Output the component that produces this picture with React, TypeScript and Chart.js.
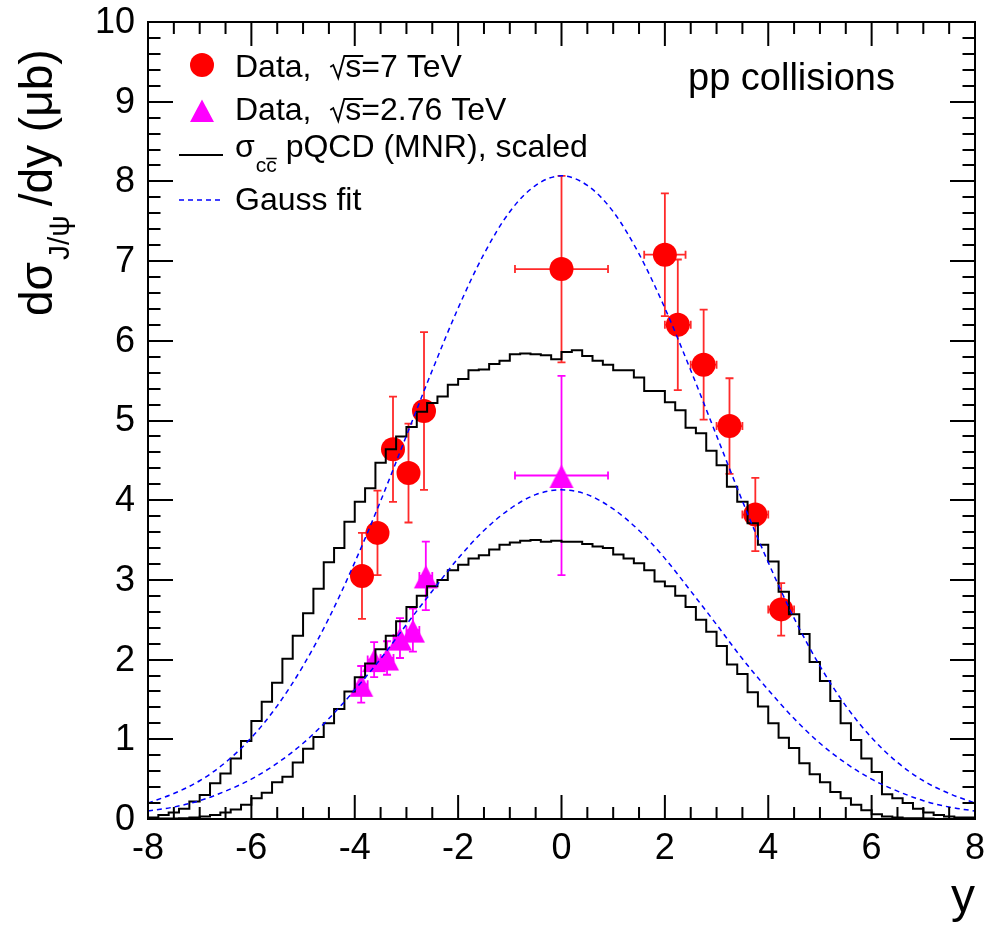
import { useEffect, useRef } from 'react';
import { Chart, registerables } from 'chart.js';

Chart.register(...registerables);

// ---------------- data ----------------
const X_TICK_LABELS = [-8, -6, -4, -2, 0, 2, 4, 6, 8];
const Y_TICK_LABELS = [0, 1, 2, 3, 4, 5, 6, 7, 8, 9, 10];

// MNR histograms: bins of width 0.2 from y = -8 to 8
const BIN_START = -8;
const BIN_WIDTH = 0.2;
const MNR_7TEV = [
  0.01, 0.02, 0.05, 0.08, 0.13, 0.22, 0.30, 0.45, 0.57, 0.76,
  0.98, 1.23, 1.47, 1.71, 2.01, 2.30, 2.58, 2.89, 3.22, 3.40,
  3.73, 3.98, 4.15, 4.47, 4.64, 4.80, 4.92, 5.11, 5.22, 5.30,
  5.45, 5.52, 5.63, 5.64, 5.71, 5.75, 5.83, 5.84, 5.83, 5.82,
  5.77, 5.86, 5.88, 5.81, 5.75, 5.70, 5.63, 5.63, 5.54, 5.37,
  5.37, 5.23, 5.13, 4.91, 4.84, 4.62, 4.44, 4.17, 3.98, 3.71,
  3.44, 3.23, 2.85, 2.57, 2.32, 1.97, 1.73, 1.48, 1.20, 0.99,
  0.76, 0.59, 0.31, 0.26, 0.20, 0.13, 0.08, 0.05, 0.03, 0.02,
];
const MNR_276TEV = [
  0.0, 0.0, 0.005, 0.005, 0.01, 0.02, 0.03, 0.05, 0.08, 0.12,
  0.18, 0.26, 0.33, 0.46, 0.53, 0.71, 0.88, 1.03, 1.20, 1.38,
  1.60, 1.78, 1.95, 2.13, 2.30, 2.48, 2.66, 2.80, 2.92, 3.00,
  3.12, 3.19, 3.27, 3.31, 3.38, 3.44, 3.47, 3.49, 3.50, 3.48,
  3.49, 3.48, 3.48, 3.45, 3.42, 3.40, 3.32, 3.27, 3.21, 3.12,
  2.98, 2.92, 2.80, 2.66, 2.50, 2.35, 2.17, 1.94, 1.82, 1.59,
  1.41, 1.20, 1.02, 0.89, 0.70, 0.56, 0.46, 0.34, 0.26, 0.18,
  0.11, 0.06, 0.03, 0.02, 0.01, 0.01, 0.005, 0.0, 0.0, 0.0,
];

// Gauss fit curves, read every 0.5 in y
const GAUSS_X = [
  -8, -7.5, -7, -6.5, -6, -5.5, -5, -4.5, -4, -3.5, -3, -2.5, -2, -1.5, -1, -0.5,
  0, 0.5, 1, 1.5, 2, 2.5, 3, 3.5, 4, 4.5, 5, 5.5, 6, 6.5, 7, 7.5, 8,
];
const GAUSS_7TEV = [
  0.20, 0.32, 0.48, 0.71, 1.02, 1.42, 1.92, 2.52, 3.22, 3.99, 4.81, 5.63, 6.41, 7.09, 7.62, 7.95,
  8.07, 7.95, 7.62, 7.09, 6.41, 5.63, 4.81, 3.99, 3.22, 2.52, 1.92, 1.42, 1.02, 0.71, 0.48, 0.32, 0.20,
];
const GAUSS_276TEV = [
  0.10, 0.15, 0.23, 0.35, 0.50, 0.70, 0.95, 1.26, 1.62, 2.01, 2.44, 2.86, 3.27, 3.62, 3.89, 4.07,
  4.13, 4.07, 3.89, 3.62, 3.27, 2.86, 2.44, 2.01, 1.62, 1.26, 0.95, 0.70, 0.50, 0.35, 0.23, 0.15, 0.10,
];

// Data, sqrt(s) = 7 TeV
const D7_Y = [-3.86, -3.56, -3.26, -2.96, -2.66, 0, 2.0, 2.25, 2.75, 3.25, 3.75, 4.25];
const D7_VAL = [3.05, 3.59, 4.64, 4.34, 5.12, 6.90, 7.08, 6.20, 5.70, 4.93, 3.82, 2.63];
const D7_ERR = [0.54, 0.53, 0.66, 0.62, 0.99, 1.17, 0.77, 0.82, 0.69, 0.60, 0.46, 0.33];
const D7_XERR = [0.15, 0.15, 0.15, 0.15, 0.15, 0.9, 0.4, 0.25, 0.25, 0.25, 0.25, 0.25];

// Data, sqrt(s) = 2.76 TeV
const D276_Y = [-3.875, -3.625, -3.375, -3.125, -2.875, -2.625, 0];
const D276_VAL = [1.69, 2.00, 2.02, 2.27, 2.37, 3.05, 4.31];
const D276_ERR = [0.23, 0.22, 0.21, 0.25, 0.27, 0.43, 1.25];
const D276_XERR = [0.125, 0.125, 0.125, 0.125, 0.125, 0.125, 0.9];

// ---------------- styling ----------------
const FONT = '"Liberation Sans", Arial, Helvetica, sans-serif';
const RED = '#ff0000';
const RED_ERR = '#ff2a2a';
const MAGENTA = '#ff00ff';
const BLUE = '#0000ff';

function histPoints(vals: number[]) {
  const pts = vals.map((v, i) => ({ x: BIN_START + i * BIN_WIDTH, y: v }));
  pts.push({ x: BIN_START + vals.length * BIN_WIDTH, y: vals[vals.length - 1] });
  return pts;
}

function zip(xs: number[], ys: number[]) {
  return xs.map((x, i) => ({ x, y: ys[i] }));
}

function triangleMarker(color: string) {
  const c = document.createElement('canvas');
  c.width = 26;
  c.height = 27;
  const g = c.getContext('2d')!;
  g.fillStyle = color;
  g.beginPath();
  g.moveTo(13, 2.8);
  g.lineTo(25, 26.1);
  g.lineTo(1, 26.1);
  g.closePath();
  g.fill();
  return c;
}

const errorBarPlugin = {
  id: 'errorBars',
  beforeDatasetsDraw(chart: any) {
    const { ctx, scales } = chart;
    const xs = scales.x;
    const ys = scales.y;
    const draw = (X: number[], V: number[], E: number[], XE: number[], color: string) => {
      ctx.save();
      ctx.strokeStyle = color;
      ctx.lineWidth = 1.8;
      const cap = 4;
      for (let i = 0; i < X.length; i++) {
        const px = xs.getPixelForValue(X[i]);
        const py = ys.getPixelForValue(V[i]);
        const t = ys.getPixelForValue(V[i] + E[i]);
        const b = ys.getPixelForValue(V[i] - E[i]);
        const l = xs.getPixelForValue(X[i] - XE[i]);
        const r = xs.getPixelForValue(X[i] + XE[i]);
        ctx.beginPath();
        ctx.moveTo(px, t); ctx.lineTo(px, b);
        ctx.moveTo(px - cap, t); ctx.lineTo(px + cap, t);
        ctx.moveTo(px - cap, b); ctx.lineTo(px + cap, b);
        ctx.moveTo(l, py); ctx.lineTo(r, py);
        ctx.moveTo(l, py - cap); ctx.lineTo(l, py + cap);
        ctx.moveTo(r, py - cap); ctx.lineTo(r, py + cap);
        ctx.stroke();
      }
      ctx.restore();
    };
    draw(D7_Y, D7_VAL, D7_ERR, D7_XERR, RED_ERR);
    draw(D276_Y, D276_VAL, D276_ERR, D276_XERR, MAGENTA);
  },
};

const framePlugin = {
  id: 'rootFrame',
  afterDraw(chart: any) {
    const { ctx, chartArea, scales } = chart;
    const { left, right, top, bottom } = chartArea;
    const xs = scales.x;
    const ys = scales.y;
    ctx.save();
    ctx.strokeStyle = '#000';
    ctx.lineWidth = 2;
    ctx.beginPath();
    // y ticks (every 0.2, major every 1)
    for (let i = 0; i <= 50; i++) {
      const v = i * 0.2;
      const py = Math.round(ys.getPixelForValue(v));
      const len = i % 5 === 0 ? 25 : 12.5;
      ctx.moveTo(left, py); ctx.lineTo(left + len, py);
      ctx.moveTo(right, py); ctx.lineTo(right - len, py);
    }
    // x ticks (every 0.5, major every 2)
    for (let i = 0; i <= 32; i++) {
      const v = -8 + i * 0.5;
      const px = xs.getPixelForValue(v);
      const len = i % 4 === 0 ? 24 : 12;
      ctx.moveTo(px, bottom); ctx.lineTo(px, bottom - len);
      ctx.moveTo(px, top); ctx.lineTo(px, top + len);
    }
    ctx.stroke();
    ctx.strokeRect(left, top, right - left, bottom - top);

    // tick labels
    ctx.fillStyle = '#000';
    ctx.font = `36px ${FONT}`;
    ctx.textAlign = 'right';
    ctx.textBaseline = 'middle';
    for (const v of Y_TICK_LABELS) {
      ctx.fillText(String(v), left - 13, ys.getPixelForValue(v) + 1);
    }
    ctx.textAlign = 'center';
    ctx.textBaseline = 'alphabetic';
    for (const v of X_TICK_LABELS) {
      ctx.fillText(String(v), xs.getPixelForValue(v), bottom + 40);
    }

    // x title
    ctx.font = `48px ${FONT}`;
    ctx.textAlign = 'right';
    ctx.fillText('y', right, 912);

    // y title (rotated) d sigma_{J/psi} /dy (mu b)
    ctx.save();
    ctx.translate(52, 316);
    ctx.rotate(-Math.PI / 2);
    ctx.textAlign = 'left';
    ctx.font = `46px ${FONT}`;
    ctx.fillText('dσ', 0, 0);
    let tx = ctx.measureText('dσ').width + 2;
    ctx.font = `30px ${FONT}`;
    ctx.fillText('J/ψ', tx, 17);
    tx += ctx.measureText('J/ψ').width + 9;
    ctx.font = `46px ${FONT}`;
    ctx.fillText('/dy (μb)', tx, 0);
    ctx.restore();

    // pp collisions
    ctx.font = `38px ${FONT}`;
    ctx.textAlign = 'left';
    ctx.fillText('pp collisions', 688, 90);

    // legend
    const lx = 235;
    const sym = 202;
    ctx.fillStyle = RED;
    ctx.beginPath();
    ctx.arc(sym, 65, 12, 0, Math.PI * 2);
    ctx.fill();
    ctx.fillStyle = MAGENTA;
    ctx.beginPath();
    ctx.moveTo(sym, 99.5);
    ctx.lineTo(sym + 12, 122);
    ctx.lineTo(sym - 12, 122);
    ctx.closePath();
    ctx.fill();
    ctx.strokeStyle = '#000';
    ctx.lineWidth = 2;
    ctx.beginPath();
    ctx.moveTo(179, 155); ctx.lineTo(223, 155);
    ctx.stroke();
    ctx.strokeStyle = BLUE;
    ctx.lineWidth = 1.5;
    ctx.setLineDash([5, 4]);
    ctx.beginPath();
    ctx.moveTo(179, 200); ctx.lineTo(223, 200);
    ctx.stroke();
    ctx.setLineDash([]);

    ctx.fillStyle = '#000';
    ctx.strokeStyle = '#000';
    const sqrtRow = (base: number, rest: string) => {
      ctx.font = `32px ${FONT}`;
      ctx.fillText('Data,  ', lx, base);
      let x = lx + ctx.measureText('Data,  ').width + 1;
      const sw = ctx.measureText('s').width;
      ctx.lineWidth = 1.8;
      ctx.beginPath();
      ctx.moveTo(x, base - 10);
      ctx.lineTo(x + 3, base - 12);
      ctx.lineTo(x + 8, base + 1);
      ctx.lineTo(x + 14, base - 21);
      ctx.lineTo(x + 16 + sw + 1, base - 21);
      ctx.stroke();
      x += 15;
      ctx.fillText('s', x, base);
      x += sw;
      ctx.fillText(rest, x, base);
    };
    sqrtRow(77, '=7 TeV');
    sqrtRow(120, '=2.76 TeV');

    ctx.font = `32px ${FONT}`;
    ctx.fillText('σ', lx, 157);
    let x3 = lx + ctx.measureText('σ').width + 1;
    ctx.font = `21px ${FONT}`;
    const cw = ctx.measureText('c').width;
    ctx.fillText('cc', x3, 172);
    ctx.lineWidth = 1.5;
    ctx.beginPath();
    ctx.moveTo(x3 + cw, 158.5);
    ctx.lineTo(x3 + 2 * cw, 158.5);
    ctx.stroke();
    x3 += 2 * cw;
    ctx.font = `32px ${FONT}`;
    ctx.fillText(' pQCD (MNR), scaled', x3, 157);

    ctx.fillText('Gauss fit', lx, 210);

    ctx.restore();
  },
};

export default function App() {
  const ref = useRef<HTMLCanvasElement>(null);
  useEffect(() => {
    document.body.style.margin = '0';
    const canvas = ref.current!;
    const tri = triangleMarker(MAGENTA);
    const chart = new Chart(canvas, {
      type: 'scatter',
      data: {
        datasets: [
          {
            type: 'line',
            label: 'Gauss fit 7 TeV',
            data: zip(GAUSS_X, GAUSS_7TEV),
            borderColor: BLUE,
            borderWidth: 1.5,
            borderDash: [5, 4],
            pointRadius: 0,
            fill: false,
            cubicInterpolationMode: 'monotone',
          },
          {
            type: 'line',
            label: 'Gauss fit 2.76 TeV',
            data: zip(GAUSS_X, GAUSS_276TEV),
            borderColor: BLUE,
            borderWidth: 1.5,
            borderDash: [5, 4],
            pointRadius: 0,
            fill: false,
            cubicInterpolationMode: 'monotone',
          },
          {
            type: 'line',
            label: 'MNR 7 TeV',
            data: histPoints(MNR_7TEV),
            borderColor: '#000',
            borderWidth: 2,
            pointRadius: 0,
            fill: false,
            stepped: 'after',
          },
          {
            type: 'line',
            label: 'MNR 2.76 TeV',
            data: histPoints(MNR_276TEV),
            borderColor: '#000',
            borderWidth: 2,
            pointRadius: 0,
            fill: false,
            stepped: 'after',
          },
          {
            label: 'Data 7 TeV',
            data: zip(D7_Y, D7_VAL),
            pointStyle: 'circle',
            pointRadius: 12,
            backgroundColor: RED,
            borderWidth: 0,
          },
          {
            label: 'Data 2.76 TeV',
            data: zip(D276_Y, D276_VAL),
            pointStyle: tri as any,
            pointRadius: 13,
            backgroundColor: MAGENTA,
            borderWidth: 0,
          },
        ],
      },
      options: {
        responsive: false,
        animation: false,
        events: [],
        layout: { padding: { left: 148, right: 11, top: 22, bottom: 108 } },
        plugins: { legend: { display: false }, tooltip: { enabled: false } },
        scales: {
          x: { type: 'linear', min: -8, max: 8, display: false },
          y: { type: 'linear', min: 0, max: 10, display: false },
        },
      },
      plugins: [errorBarPlugin, framePlugin],
    } as any);
    return () => chart.destroy();
  }, []);
  return (
    <div style={{ width: 988, height: 927 }}>
      <canvas ref={ref} width={988} height={927} style={{ display: 'block', width: 988, height: 927 }} />
    </div>
  );
}
